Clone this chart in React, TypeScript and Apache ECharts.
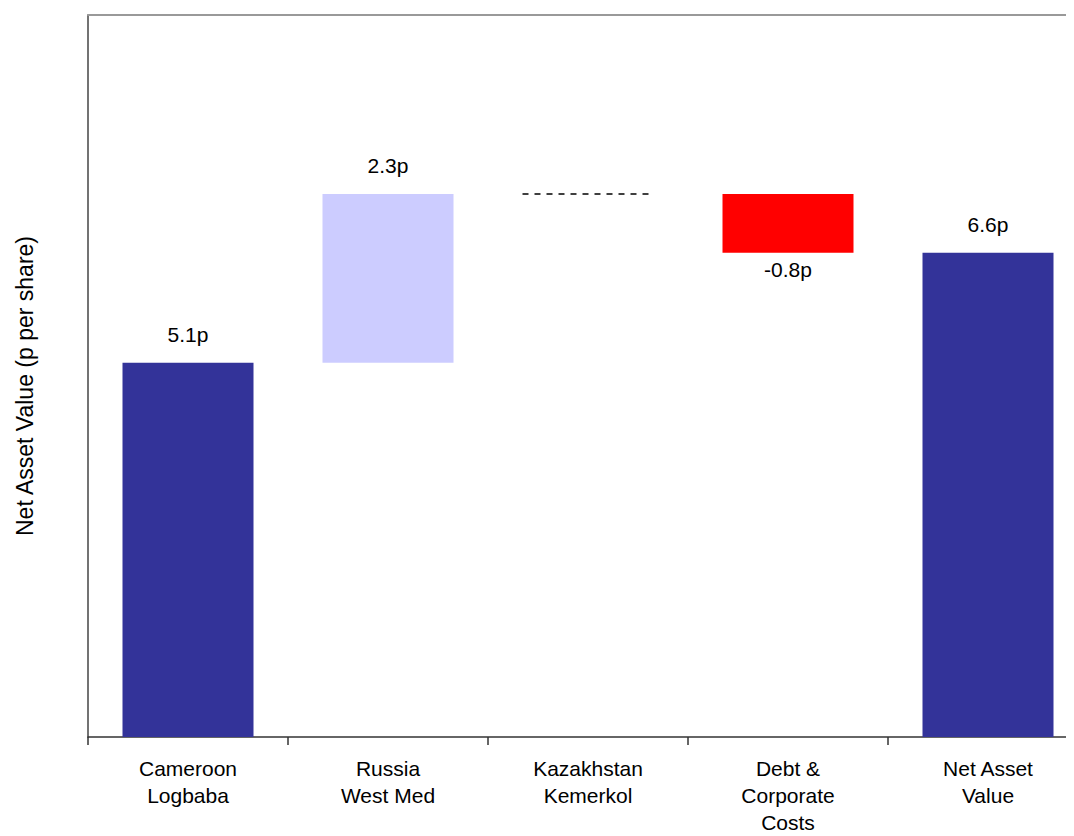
import React, { useEffect, useRef } from "react";
import * as echarts from "echarts";

const categories = [
  "Cameroon\nLogbaba",
  "Russia\nWest Med",
  "Kazakhstan\nKemerkol",
  "Debt &\nCorporate\nCosts",
  "Net Asset\nValue",
];
// change of each step (last entry is the total)
const steps = [5.1, 2.3, 0, -0.8];
const total = 6.6;
const labels = ["5.1p", "2.3p", "", "-0.8p", "6.6p"];
const colors = ["#333399", "#CCCCFF", "#CCCCFF", "#FF0000", "#333399"];
const yName = "Net Asset Value (p per share)";

export default function App() {
  const ref = useRef<HTMLDivElement>(null);
  useEffect(() => {
    if (!ref.current) return;
    const chart = echarts.init(ref.current, undefined, { renderer: "svg" });

    const base: number[] = [];
    const vis: any[] = [];
    let cum = 0;
    steps.forEach((s, i) => {
      const lo = s >= 0 ? cum : cum + s;
      base.push(i === 0 ? 0 : lo);
      vis.push({
        value: Math.abs(s),
        itemStyle: { color: colors[i] },
        label: {
          show: labels[i] !== "",
          position: s < 0 ? "bottom" : "top",
          distance: s < 0 ? 6 : 18,
          formatter: labels[i],
        },
      });
      cum += s;
    });
    base.push(0);
    vis.push({
      value: total,
      itemStyle: { color: colors[4] },
      label: { show: true, position: "top", distance: 18, formatter: labels[4] },
    });
    const flat: number[][] = [];
    let c2 = 0;
    steps.forEach((s, i) => {
      c2 += s;
      if (s === 0) flat.push([i, c2]);
    });

    const font = "'Liberation Sans', Arial, Helvetica, sans-serif";

    chart.setOption({
      animation: false,
      textStyle: { fontFamily: font },
      grid: { left: 80, right: 20, top: 7, bottom: 94, containLabel: false },
      xAxis: [
        {
          type: "category",
          data: categories,
          position: "bottom",
          axisLine: { lineStyle: { color: "#333333", width: 1.5 } },
          axisTick: { show: true, length: 8, lineStyle: { color: "#333333", width: 1.5 } },
          axisLabel: {
            color: "#000",
            fontSize: 21,
            lineHeight: 27,
            margin: 18,
            fontFamily: font,
            interval: 0,
          },
        },
        {
          type: "category",
          data: categories,
          position: "top",
          axisLine: { lineStyle: { color: "#999999", width: 2 } },
          axisTick: { show: false },
          axisLabel: { show: false },
        },
      ],
      yAxis: {
        type: "value",
        min: 0,
        max: 9.84,
        axisLine: { show: true, lineStyle: { color: "#444444", width: 1.5 } },
        axisTick: { show: false },
        axisLabel: { show: false },
        splitLine: { show: false },
      },
      series: [
        {
          type: "bar",
          stack: "w",
          data: base,
          barWidth: "65.5%",
          itemStyle: { color: "transparent" },
          silent: true,
        },
        {
          type: "bar",
          stack: "w",
          data: vis,
          barWidth: "65.5%",
          label: { color: "#000", fontSize: 21, fontFamily: font },
        },
        {
          type: "custom",
          data: flat,
          renderItem: (params: any, api: any) => {
            const p = api.coord([api.value(0), api.value(1)]);
            const w = api.size([1, 0])[0] * 0.655;
            return {
              type: "line",
              shape: { x1: p[0] - w / 2, y1: p[1], x2: p[0] + w / 2, y2: p[1] },
              style: { stroke: "#000", lineWidth: 1.5, lineDash: [6, 6] },
            };
          },
        },
      ],
      graphic: [
        {
          type: "text",
          x: 17,
          y: 378,
          rotation: Math.PI / 2,
          style: {
            text: yName,
            fontSize: 23,
            fontFamily: font,
            fill: "#000",
            align: "center",
            verticalAlign: "middle",
          },
        },
      ],
    });
    return () => chart.dispose();
  }, []);
  return (
    <div style={{ width: 1066, height: 828, overflow: "hidden" }}>
      <div ref={ref} style={{ width: 1100, height: 828 }} />
    </div>
  );
}
